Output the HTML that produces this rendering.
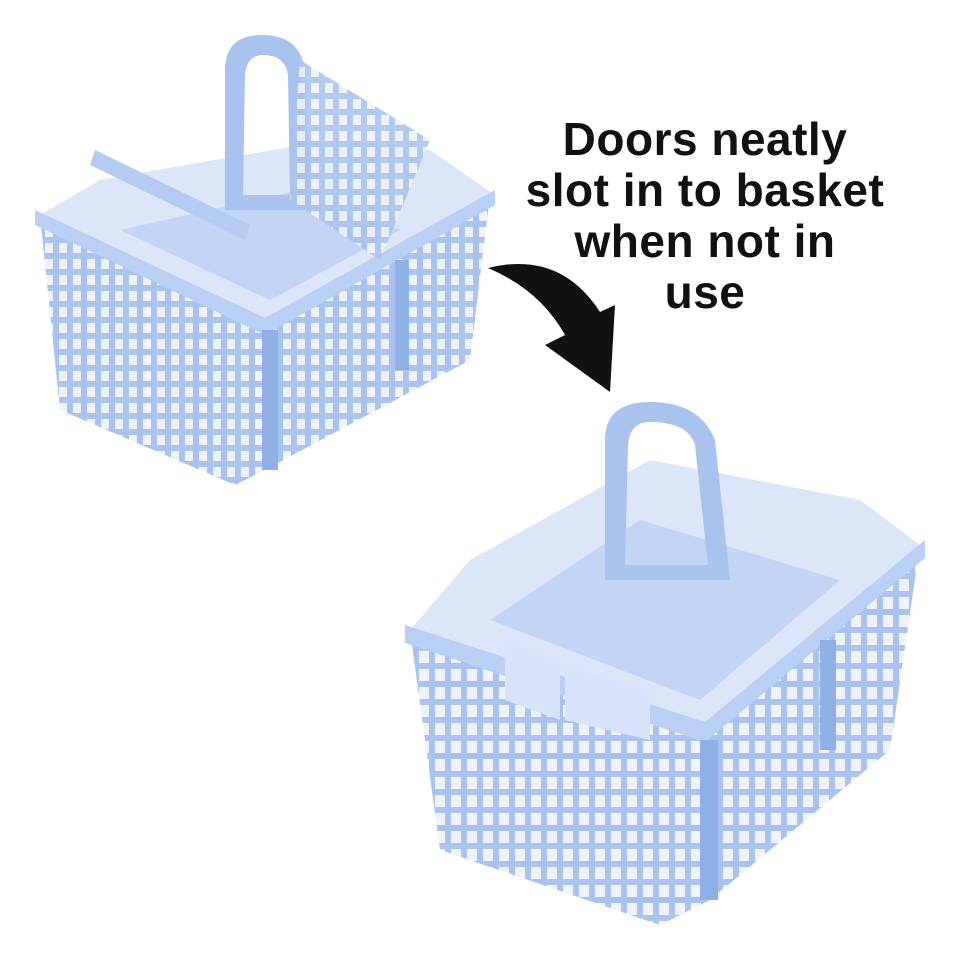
<!DOCTYPE html>
<html><head><meta charset="utf-8"><style>
html,body{margin:0;padding:0;background:#fff;width:960px;height:960px;overflow:hidden}
.t{position:absolute;left:480px;width:450px;text-align:center;font-family:"Liberation Sans",sans-serif;font-size:46px;line-height:51px;color:#111;top:114px;font-weight:bold;letter-spacing:0.5px}
</style></head><body>
<svg width="960" height="960" style="position:absolute;left:0;top:0">
<defs>
<pattern id="g" width="14" height="16" patternUnits="userSpaceOnUse">
<rect width="14" height="16" fill="#a9c3ee"/><rect x="3" y="3" width="8" height="10" fill="#eef3fc"/></pattern>
<pattern id="g2" width="16" height="18" patternUnits="userSpaceOnUse">
<rect width="16" height="18" fill="#a9c3ee"/><rect x="3" y="3" width="10" height="12" fill="#eef3fc"/></pattern>
</defs>
<!-- left basket -->
<polygon points="40,215 265,320 495,195 430,150 330,140 100,180" fill="#dbe6f9"/>
<polygon points="120,230 270,300 400,230 300,190" fill="#c2d5f4"/>
<polygon points="40,215 265,320 265,470 235,485 60,410" fill="url(#g)"/>
<polygon points="265,320 490,195 470,360 265,470" fill="url(#g)"/>
<polygon points="35,210 265,318 265,335 35,225" fill="#b9cff3"/>
<polygon points="265,318 495,190 495,205 265,335" fill="#b9cff3"/>
<rect x="262" y="330" width="16" height="140" fill="#8fb0e6"/>
<rect x="395" y="260" width="14" height="110" fill="#8fb0e6"/>
<path d="M225,210 L225,70 Q225,35 262,35 Q300,35 305,70 L310,210 Z M243,195 L245,75 Q247,55 263,55 Q285,55 288,75 L290,195 Z" fill="#a9c3ee" fill-rule="evenodd"/>
<polygon points="300,60 430,140 380,260 290,200" fill="url(#g)" opacity="0.9"/>
<polygon points="95,150 250,225 245,240 90,165" fill="#b4cbf1"/>
<!-- arrow -->
<path d="M488,268 Q560,250 600,312 L615,305 L610,392 L545,345 L565,335 Q540,290 488,268 Z" fill="#111"/>
<!-- right basket -->
<polygon points="410,630 705,730 920,545 860,500 650,460 470,560" fill="#dbe6f9"/>
<polygon points="490,620 700,700 840,580 640,520" fill="#c2d5f4"/>
<polygon points="410,630 705,730 710,900 660,925 440,850" fill="url(#g2)"/>
<polygon points="705,730 920,545 890,750 710,900" fill="url(#g2)"/>
<polygon points="405,625 705,722 705,742 405,643" fill="#b9cff3"/>
<polygon points="705,722 925,540 925,558 705,742" fill="#b9cff3"/>
<rect x="700" y="740" width="18" height="160" fill="#8fb0e6"/>
<rect x="820" y="640" width="16" height="110" fill="#8fb0e6"/>
<polygon points="505,640 560,660 560,720 505,700" fill="#d6e3f8"/>
<polygon points="565,665 650,690 650,740 565,720" fill="#d6e3f8"/>
<path d="M605,580 L605,440 Q605,402 650,402 Q700,402 715,440 L730,580 Z M625,565 L628,445 Q630,422 650,422 Q688,422 695,445 L708,565 Z" fill="#a9c3ee" fill-rule="evenodd"/>
</svg>
<div class="t">Doors neatly<br>slot in to basket<br>when not in<br>use</div>
</body></html>
